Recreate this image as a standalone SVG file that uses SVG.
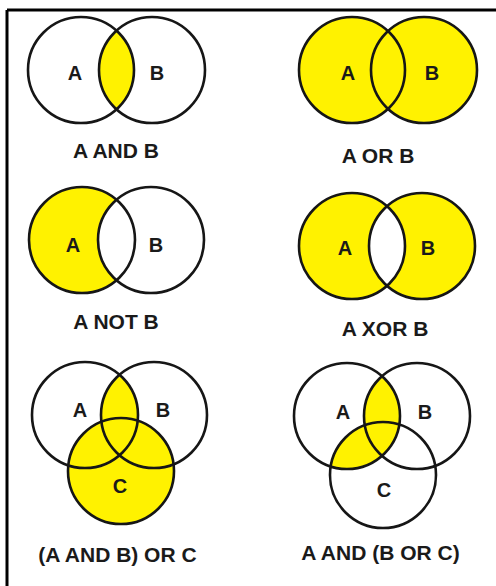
<svg xmlns="http://www.w3.org/2000/svg" width="496" height="586" viewBox="0 0 496 586">
<style>
.c{fill:none;stroke:#161616;stroke-width:2.6}
.y{fill:#FFF200}
.w{fill:#ffffff}
.t{font-family:"Liberation Sans",Arial,sans-serif;font-weight:bold;fill:#1a1a1a;text-anchor:middle}
.in{font-size:20px}
.lb{font-size:21px}
</style>
<defs>
<clipPath id="a1"><circle cx="81" cy="70" r="53"/></clipPath>
<clipPath id="a3"><circle cx="82" cy="240" r="53"/></clipPath>
<clipPath id="a4"><circle cx="352" cy="246" r="53"/></clipPath>
<clipPath id="a5"><circle cx="85" cy="415" r="53"/></clipPath>
<clipPath id="a6"><circle cx="347" cy="416" r="53"/></clipPath>
</defs>
<rect x="0" y="0" width="496" height="586" fill="#ffffff"/>
<g id="frame">
<line x1="7" y1="10" x2="496" y2="10" stroke="#000" stroke-width="3"/>
<line x1="7" y1="10" x2="7" y2="586" stroke="#000" stroke-width="3"/>
</g>
<g id="and">
<circle class="y" cx="152" cy="70" r="53" clip-path="url(#a1)"/>
<circle class="c" cx="81" cy="70" r="53"/>
<circle class="c" cx="152" cy="70" r="53"/>
<text class="t in" x="75" y="80">A</text>
<text class="t in" x="157" y="80">B</text>
<text class="t lb" x="116" y="158">A AND B</text>
</g>
<g id="or">
<circle class="y" cx="352" cy="70" r="53"/>
<circle class="y" cx="424" cy="70" r="53"/>
<circle class="c" cx="352" cy="70" r="53"/>
<circle class="c" cx="424" cy="70" r="53"/>
<text class="t in" x="348" y="80">A</text>
<text class="t in" x="432" y="80">B</text>
<text class="t lb" x="378" y="163">A OR B</text>
</g>
<g id="not">
<circle class="y" cx="82" cy="240" r="53"/>
<circle class="w" cx="151" cy="240" r="53" clip-path="url(#a3)"/>
<circle class="c" cx="82" cy="240" r="53"/>
<circle class="c" cx="151" cy="240" r="53"/>
<text class="t in" x="73" y="252">A</text>
<text class="t in" x="156" y="252">B</text>
<text class="t lb" x="116" y="329">A NOT B</text>
</g>
<g id="xor">
<circle class="y" cx="352" cy="246" r="53"/>
<circle class="y" cx="422" cy="246" r="53"/>
<circle class="w" cx="422" cy="246" r="53" clip-path="url(#a4)"/>
<circle class="c" cx="352" cy="246" r="53"/>
<circle class="c" cx="422" cy="246" r="53"/>
<text class="t in" x="345" y="255">A</text>
<text class="t in" x="428" y="255">B</text>
<text class="t lb" x="385" y="336">A XOR B</text>
</g>
<g id="and-or-c">
<circle class="y" cx="121" cy="471" r="53"/>
<circle class="y" cx="154" cy="415" r="53" clip-path="url(#a5)"/>
<circle class="c" cx="85" cy="415" r="53"/>
<circle class="c" cx="154" cy="415" r="53"/>
<circle class="c" cx="121" cy="471" r="53"/>
<text class="t in" x="80" y="417">A</text>
<text class="t in" x="163" y="417">B</text>
<text class="t in" x="120" y="493">C</text>
<text class="t lb" x="117.5" y="562">(A AND B) OR C</text>
</g>
<g id="and-b-or-c">
<circle class="y" cx="417" cy="416" r="53" clip-path="url(#a6)"/>
<circle class="y" cx="383" cy="475" r="53" clip-path="url(#a6)"/>
<circle class="c" cx="347" cy="416" r="53"/>
<circle class="c" cx="417" cy="416" r="53"/>
<circle class="c" cx="383" cy="475" r="53"/>
<text class="t in" x="343" y="419">A</text>
<text class="t in" x="425" y="419">B</text>
<text class="t in" x="384" y="497">C</text>
<text class="t lb" x="380.5" y="560">A AND (B OR C)</text>
</g>
</svg>
